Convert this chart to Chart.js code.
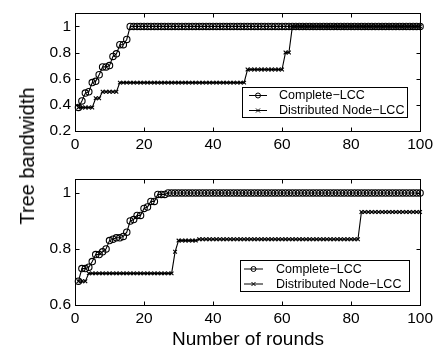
<!DOCTYPE html>
<html>
<head>
<meta charset="utf-8">
<script src="https://cdn.jsdelivr.net/npm/chart.js@4.4.1/dist/chart.umd.min.js"></script>
<style>
  body { margin: 0; background: #fff; }
  #wrap { position: relative; width: 437px; height: 351px; font-family: "Liberation Sans", Arial, sans-serif; color: #000; }
  canvas { position: absolute; left: 0; }
  #ylab { position: absolute; left: 27px; top: 156px; transform: translate(-50%, -50%) rotate(-90deg); font-size: 20px; line-height: 20px; white-space: nowrap; }
  #xlab { position: absolute; left: 248px; top: 338px; transform: translate(-50%, -50%); font-size: 19px; line-height: 19px; white-space: nowrap; }
</style>
</head>
<body>
<div id="wrap">
  <canvas id="topChart" width="437" height="160" style="top:0"></canvas>
  <canvas id="botChart" width="437" height="170" style="top:160px"></canvas>
  <div id="ylab">Tree bandwidth</div>
  <div id="xlab">Number of rounds</div>
</div>
<script>
const rounds = [
  1,2,3,4,5,6,7,8,9,10, 11,12,13,14,15,16,17,18,19,20,
  21,22,23,24,25,26,27,28,29,30, 31,32,33,34,35,36,37,38,39,40,
  41,42,43,44,45,46,47,48,49,50, 51,52,53,54,55,56,57,58,59,60,
  61,62,63,64,65,66,67,68,69,70, 71,72,73,74,75,76,77,78,79,80,
  81,82,83,84,85,86,87,88,89,90, 91,92,93,94,95,96,97,98,99,100
];
const seriesNames = ['Complete\u2212LCC', 'Distributed Node\u2212LCC'];

// upper panel
const topComplete = [
  0.38,0.43,0.49,0.50,0.57,0.58,0.63,0.69,0.69,0.70,
  0.77,0.79,0.86,0.86,0.90,1,1,1,1,1,
  1,1,1,1,1,1,1,1,1,1, 1,1,1,1,1,1,1,1,1,1,
  1,1,1,1,1,1,1,1,1,1, 1,1,1,1,1,1,1,1,1,1,
  1,1,1,1,1,1,1,1,1,1, 1,1,1,1,1,1,1,1,1,1,
  1,1,1,1,1,1,1,1,1,1, 1,1,1,1,1,1,1,1,1,1
];
const topDistributed = [
  0.38,0.38,0.38,0.38,0.38,0.45,0.45,0.50,0.50,0.50,
  0.50,0.50,0.57,0.57,0.57,0.57,0.57,0.57,0.57,0.57,
  0.57,0.57,0.57,0.57,0.57,0.57,0.57,0.57,0.57,0.57,
  0.57,0.57,0.57,0.57,0.57,0.57,0.57,0.57,0.57,0.57,
  0.57,0.57,0.57,0.57,0.57,0.57,0.57,0.57,0.57,0.67,
  0.67,0.67,0.67,0.67,0.67,0.67,0.67,0.67,0.67,0.67,
  0.80,0.80,1,1,1,1,1,1,1,1,
  1,1,1,1,1,1,1,1,1,1, 1,1,1,1,1,1,1,1,1,1,
  1,1,1,1,1,1,1,1,1,1
];

// lower panel
const botComplete = [
  0.685,0.73,0.73,0.735,0.755,0.78,0.78,0.79,0.80,0.83,
  0.835,0.84,0.84,0.845,0.86,0.90,0.905,0.92,0.92,0.945,
  0.95,0.97,0.97,0.995,0.995,0.995,1,1,1,1,
  1,1,1,1,1,1,1,1,1,1, 1,1,1,1,1,1,1,1,1,1,
  1,1,1,1,1,1,1,1,1,1, 1,1,1,1,1,1,1,1,1,1,
  1,1,1,1,1,1,1,1,1,1, 1,1,1,1,1,1,1,1,1,1,
  1,1,1,1,1,1,1,1,1,1
];
const botDistributed = [
  0.685,0.685,0.685,0.713,0.713,0.713,0.713,0.713,0.713,0.713,
  0.713,0.713,0.713,0.713,0.713,0.713,0.713,0.713,0.713,0.713,
  0.713,0.713,0.713,0.713,0.713,0.713,0.713,0.713,0.79,0.83,
  0.83,0.83,0.83,0.83,0.83,0.835,0.835,0.835,0.835,0.835,
  0.835,0.835,0.835,0.835,0.835,0.835,0.835,0.835,0.835,0.835,
  0.835,0.835,0.835,0.835,0.835,0.835,0.835,0.835,0.835,0.835,
  0.835,0.835,0.835,0.835,0.835,0.835,0.835,0.835,0.835,0.835,
  0.835,0.835,0.835,0.835,0.835,0.835,0.835,0.835,0.835,0.835,
  0.835,0.835,0.932,0.932,0.932,0.932,0.932,0.932,0.932,0.932,
  0.932,0.932,0.932,0.932,0.932,0.932,0.932,0.932,0.932,0.932
];

const xTicks = [0, 20, 40, 60, 80, 100];
const topYTicks = [0.2, 0.4, 0.6, 0.8, 1];
const botYTicks = [0.6, 0.8, 1];

Chart.defaults.font.family = '"Liberation Sans", Arial, sans-serif';
Chart.defaults.color = '#000';

// matlab style box with inward ticks on all four sides
const framePlugin = {
  id: 'frame',
  afterDraw(chart) {
    const { ctx, chartArea: a } = chart;
    const x = chart.scales.x, y = chart.scales.y;
    const L = Math.round(a.left) + 0.5, R = Math.round(a.right) + 0.5;
    const T = Math.round(a.top) + 0.5, B = Math.round(a.bottom) + 0.5;
    ctx.save();
    ctx.strokeStyle = '#000';
    ctx.lineWidth = 1;
    ctx.strokeRect(L, T, R - L, B - T);
    ctx.beginPath();
    x.ticks.forEach(t => {
      const px = Math.round(x.getPixelForValue(t.value)) + 0.5;
      ctx.moveTo(px, B); ctx.lineTo(px, B - 4);
      ctx.moveTo(px, T); ctx.lineTo(px, T + 4);
    });
    y.ticks.forEach(t => {
      const py = Math.round(y.getPixelForValue(t.value)) + 0.5;
      ctx.moveTo(L, py); ctx.lineTo(L + 4, py);
      ctx.moveTo(R, py); ctx.lineTo(R - 4, py);
    });
    ctx.stroke();
    ctx.restore();
  }
};

const boxLegend = {
  id: 'boxLegend',
  afterDraw(chart, args, o) {
    const ctx = chart.ctx;
    ctx.save();
    ctx.fillStyle = '#fff';
    ctx.fillRect(o.left, o.top, o.right - o.left, o.bottom - o.top);
    ctx.strokeStyle = '#000';
    ctx.lineWidth = 1;
    ctx.strokeRect(o.left, o.top, o.right - o.left, o.bottom - o.top);
    ctx.font = '12.5px "Liberation Sans", Arial, sans-serif';
    ctx.textBaseline = 'middle';
    ctx.fillStyle = '#000';
    chart.data.datasets.forEach((ds, i) => {
      const ry = o.rows[i];
      const mx = (o.lineFrom + o.lineTo) / 2;
      ctx.beginPath();
      ctx.moveTo(o.lineFrom, ry); ctx.lineTo(o.lineTo, ry);
      if (ds.pointStyle === 'circle') {
        ctx.moveTo(mx + 2.5, ry);
        ctx.arc(mx, ry, 2.5, 0, Math.PI * 2);
      } else {
        ctx.moveTo(mx - 2, ry - 2); ctx.lineTo(mx + 2, ry + 2);
        ctx.moveTo(mx - 2, ry + 2); ctx.lineTo(mx + 2, ry - 2);
      }
      ctx.stroke();
      ctx.fillText(ds.label, o.textX, ry + 0.5);
    });
    ctx.restore();
  }
};

function makeChart(id, complete, distributed, yMin, yMax, yTicks, padTop, xHeight, legend) {
  return new Chart(document.getElementById(id), {
    type: 'line',
    data: {
      labels: rounds,
      datasets: [
        { label: seriesNames[0], data: complete, borderColor: '#000', borderWidth: 1.1,
          pointStyle: 'circle', pointRadius: 3.2, pointBorderWidth: 1.1,
          pointBorderColor: '#000', pointBackgroundColor: 'rgba(0,0,0,0)', clip: 6 },
        { label: seriesNames[1], data: distributed, borderColor: '#000', borderWidth: 1.1,
          pointStyle: 'crossRot', pointRadius: 2.6, pointBorderWidth: 1.1,
          pointBorderColor: '#000', clip: 6 }
      ]
    },
    options: {
      responsive: false,
      animation: false,
      devicePixelRatio: 1,
      layout: { padding: { top: padTop, right: 16, left: 0, bottom: 0 } },
      plugins: { legend: { display: false }, tooltip: { enabled: false }, boxLegend: legend },
      scales: {
        x: {
          type: 'linear', min: 0, max: 100,
          grid: { display: false, drawTicks: false },
          border: { display: false },
          afterBuildTicks: s => { s.ticks = xTicks.map(v => ({ value: v })); },
          afterFit: s => { s.height = xHeight; },
          ticks: { font: { size: 15.5 }, padding: 4, maxRotation: 0, autoSkip: false,
                   callback: v => String(v) }
        },
        y: {
          min: yMin, max: yMax,
          grid: { display: false, drawTicks: false },
          border: { display: false },
          afterBuildTicks: s => { s.ticks = yTicks.map(v => ({ value: v })); },
          afterFit: s => { s.width = 75; },
          ticks: { font: { size: 15.5 }, padding: 4, autoSkip: false,
                   callback: v => String(Math.round(v * 10) / 10) }
        }
      }
    },
    plugins: [framePlugin, boxLegend]
  });
}

makeChart('topChart', topComplete, topDistributed, 0.2, 1.1, topYTicks, 5, 29,
  { left: 242.5, top: 87.5, right: 407.5, bottom: 117.5, rows: [95.5, 110.5],
    lineFrom: 249, lineTo: 267, textX: 279 });
makeChart('botChart', botComplete, botDistributed, 0.6, 1.05, botYTicks, 19, 25,
  { left: 240.5, top: 100.5, right: 409.5, bottom: 131.5, rows: [109, 124],
    lineFrom: 244, lineTo: 263, textX: 276 });
</script>
</body>
</html>
